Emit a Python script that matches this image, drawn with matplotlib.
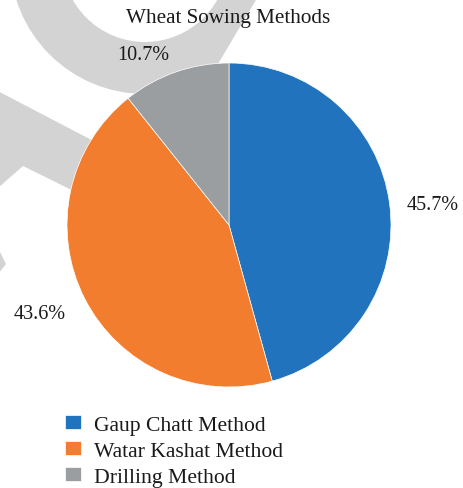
import matplotlib
matplotlib.use("Agg")
import matplotlib.pyplot as plt
import numpy as np
from matplotlib.patches import Wedge, Polygon

plt.rcParams["font.family"] = ["Liberation Serif", "DejaVu Serif"]

# Data
methods = ["Gaup Chatt Method", "Watar Kashat Method", "Drilling Method"]
shares = [45.7, 43.6, 10.7]
colors = ["#2273bd", "#f37d2e", "#9b9ea0"]
title = "Wheat Sowing Methods"

# Percentage label anchors (axes data units, pie radius = 1)
label_xy = [(1.256, 0.127), (-1.167, -0.545), (-0.531, 1.052)]

W, H = 464, 489
fig = plt.figure(figsize=(W / 100, H / 100), dpi=100)

# Light grey backdrop emblem, drawn in pixel coordinates
bg = fig.add_axes([0, 0, 1, 1])
bg.set_xlim(0, W)
bg.set_ylim(H, 0)
bg.axis("off")
wm = "#d3d3d3"
ring = Wedge((145, -40), 135, 0, 180, width=52, color=wm, lw=0)
bg.add_patch(ring)
cut = Polygon([(-100, -200), (375, -200), (138, 200), (-100, 200)], closed=True,
              transform=bg.transData)
ring.set_clip_path(cut)
bg.add_patch(Polygon([(-10, 88), (130, 161), (110, 210), (23, 167), (-10, 196)],
                     closed=True, color=wm, lw=0))
bg.add_patch(Polygon([(-5, 243), (6, 265), (-8, 283)], closed=True, color=wm, lw=0))

# Pie
ax = fig.add_axes([67 / W, (H - 388) / H, 324 / W, 324 / H])
wedges, _, autotexts = ax.pie(
    shares, colors=colors, startangle=90, counterclock=False,
    autopct="%.1f%%", pctdistance=1.25,
    wedgeprops=dict(edgecolor="white", linewidth=0.5),
    textprops=dict(fontsize=14.5, color="#1a1a1a"),
)
for t, xy in zip(autotexts, label_xy):
    t.set_position(xy)
ax.set_xlim(-1, 1)
ax.set_ylim(-1, 1)
ax.set_aspect("equal")

fig.text(228 / W, 1 - 19 / H, title, ha="center", va="center",
         fontsize=15.2, color="#1a1a1a")

leg = fig.legend(wedges, methods, loc="upper left",
                 bbox_to_anchor=(65 / W, 1 - 416 / H), frameon=False,
                 prop=dict(family=["Liberation Serif", "DejaVu Serif"], size=15.6),
                 handlelength=0.72, handleheight=0.6,
                 handletextpad=0.6, labelspacing=0.3, borderaxespad=0,
                 borderpad=0)
for t in leg.get_texts():
    t.set_color("#1a1a1a")

fig.savefig("out.png", dpi=100)
